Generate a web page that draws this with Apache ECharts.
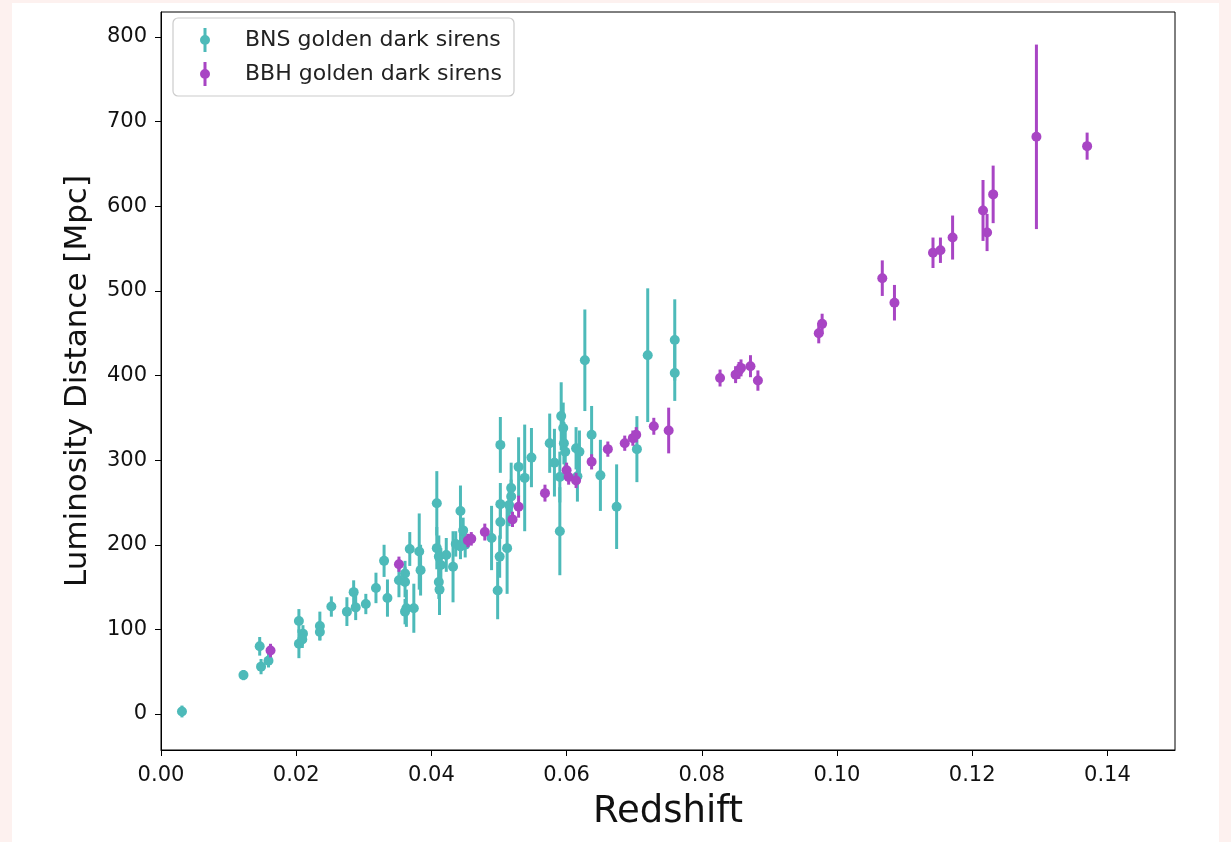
<!DOCTYPE html>
<html>
<head>
<meta charset="utf-8">
<script src="https://cdn.jsdelivr.net/npm/echarts@6/dist/echarts.min.js"></script>
<style>
  html, body { margin: 0; padding: 0; background: #fdf1ef; }
  #paper { position: absolute; left: 12px; top: 3px; width: 1207px; height: 839px; background: #fff; }
  #chart { position: absolute; left: 0; top: 0; width: 1231px; height: 842px; }
</style>
</head>
<body>
<div id="paper"></div>
<div id="chart"></div>
<script>
// BNS golden dark sirens: redshift, distance, 1-sigma error
const bnsZ = [0.0031, 0.0122, 0.0146, 0.0148, 0.0159, 0.0204, 0.0210, 0.0204, 0.0209, 0.0235,
  0.0235, 0.0252, 0.0275, 0.0285, 0.0288, 0.0303, 0.0318, 0.0330, 0.0335, 0.0352,
  0.0361, 0.0361, 0.0363, 0.0361, 0.0368, 0.0374, 0.0382, 0.0384, 0.0408, 0.0408,
  0.0411, 0.0414, 0.0411, 0.0412, 0.0422, 0.0432, 0.0436, 0.0443, 0.0443, 0.0450,
  0.0447, 0.0489, 0.0502, 0.0502, 0.0502, 0.0501, 0.0498, 0.0512, 0.0518, 0.0518,
  0.0515, 0.0529, 0.0538, 0.0548, 0.0575, 0.0582, 0.0590, 0.0590, 0.0592, 0.0595,
  0.0596, 0.0598, 0.0614, 0.0619, 0.0616, 0.0627, 0.0637, 0.0650, 0.0674, 0.0704,
  0.0720, 0.0760, 0.0760];
const bnsD = [3, 46, 80, 56, 63, 110, 95, 83, 88, 104,
  97, 127, 121, 144, 126, 130, 149, 181, 137, 158,
  166, 156, 125, 121, 195, 125, 192, 170, 249, 196,
  186, 176, 156, 147, 188, 174, 201, 240, 198, 200,
  217, 208, 318, 248, 227, 186, 146, 196, 267, 257,
  247, 292, 279, 303, 320, 297, 216, 280, 352, 338,
  320, 310, 314, 310, 281, 418, 330, 282, 245, 313,
  424, 442, 403];
const bnsErr = [7, 6, 11, 9, 8, 14, 10, 17, 10, 17,
  10, 12, 17, 14, 15, 12, 18, 19, 22, 20,
  15, 18, 22, 15, 20, 29, 45, 30, 38, 25,
  25, 20, 20, 30, 20, 42, 15, 30, 15, 15,
  15, 38, 33, 25, 20, 25, 34, 54, 30, 20,
  25, 35, 63, 35, 35, 40, 52, 30, 40, 30,
  25, 30, 25, 25, 30, 60, 34, 42, 50, 39,
  79, 48, 33];

// BBH golden dark sirens
const bbhZ = [0.0162, 0.0352, 0.0454, 0.0459, 0.0479, 0.0520, 0.0529, 0.0568, 0.0600, 0.0603,
  0.0614, 0.0637, 0.0661, 0.0686, 0.0698, 0.0703, 0.0729, 0.0751, 0.0827, 0.0850,
  0.0855, 0.0858, 0.0872, 0.0883, 0.0973, 0.0978, 0.1067, 0.1085, 0.1142, 0.1153,
  0.1171, 0.1216, 0.1222, 0.1231, 0.1295, 0.1370];
const bbhD = [75, 177, 205, 207, 215, 230, 245, 261, 288, 280,
  276, 298, 313, 320, 326, 330, 340, 335, 397, 401,
  406, 409, 411, 394, 450, 461, 515, 486, 545, 548,
  563, 595, 569, 614, 682, 671];
const bbhErr = [8, 9, 8, 8, 10, 9, 13, 10, 9, 9,
  9, 9, 9, 9, 9, 9, 10, 27, 10, 10,
  10, 10, 13, 12, 12, 12, 21, 21, 18, 15,
  26, 36, 22, 34, 109, 16];

const xTicks = [0, 0.02, 0.04, 0.06, 0.08, 0.10, 0.12, 0.14];
const yTicks = [0, 100, 200, 300, 400, 500, 600, 700, 800];

const bnsColor = '#4dbab9';
const bbhColor = '#a845c4';
const font = 'DejaVu Sans';
// errorbar legend glyph: thin bar + dot, both wound the same way so nothing cuts out
const barIcon = 'path://M3.5,0h3v24h-3z M0,12a5,5 0 1,1 10,0a5,5 0 1,1 -10,0z';

function rows(z, d, e) {
  return z.map((v, i) => [v, d[i], e[i]]);
}

function errorBars(params, api) {
  const x = api.value(0), y = api.value(1), e = api.value(2);
  const lo = api.coord([x, y - e]);
  const hi = api.coord([x, y + e]);
  const c = api.coord([x, y]);
  const color = api.visual('color');
  return {
    type: 'group',
    children: [
      { type: 'line', shape: { x1: lo[0], y1: lo[1], x2: hi[0], y2: hi[1] },
        style: { stroke: color, lineWidth: 3 } },
      { type: 'circle', shape: { cx: c[0], cy: c[1], r: 5 },
        style: { fill: color } }
    ]
  };
}

const chart = echarts.init(document.getElementById('chart'), null, { renderer: 'canvas' });

chart.setOption({
  animation: false,
  backgroundColor: 'transparent',
  grid: { left: 161, right: 56, top: 12, bottom: 92, show: true,
    borderColor: '#000', borderWidth: 1, backgroundColor: 'transparent' },
  legend: {
    orient: 'vertical', left: 173, top: 18,
    padding: [10, 12, 10, 27], itemGap: 10,
    itemWidth: 10, itemHeight: 24,
    backgroundColor: '#fff', borderColor: '#cccccc', borderWidth: 1.2, borderRadius: 5,
    textStyle: { fontFamily: font, fontSize: 22, color: '#222', padding: [0, 0, 0, 30] },
    data: [
      { name: 'BNS golden dark sirens', icon: barIcon },
      { name: 'BBH golden dark sirens', icon: barIcon }
    ]
  },
  xAxis: {
    type: 'value', min: 0, max: 0.15,
    name: 'Redshift', nameLocation: 'middle', nameGap: 44,
    nameTextStyle: { fontFamily: font, fontSize: 37, color: '#111' },
    axisLine: { show: true, onZero: false, lineStyle: { color: '#000', width: 1 } },
    axisTick: { show: true, length: 6, customValues: xTicks, lineStyle: { color: '#000' } },
    axisLabel: { customValues: xTicks, margin: 15, fontFamily: font, fontSize: 21, color: '#111',
      formatter: v => v.toFixed(2) },
    splitLine: { show: false }
  },
  yAxis: {
    type: 'value', min: -42.5, max: 829.5,
    name: 'Luminosity Distance [Mpc]', nameLocation: 'middle', nameGap: 68,
    nameTextStyle: { fontFamily: font, fontSize: 31, color: '#111' },
    axisLine: { show: true, onZero: false, lineStyle: { color: '#000', width: 1 } },
    axisTick: { show: true, length: 6, customValues: yTicks, lineStyle: { color: '#000' } },
    axisLabel: { customValues: yTicks, margin: 14, fontFamily: font, fontSize: 21, color: '#111' },
    splitLine: { show: false }
  },
  series: [
    { name: 'BNS golden dark sirens', type: 'custom', renderItem: errorBars,
      itemStyle: { color: bnsColor }, encode: { x: 0, y: 1 }, clip: true,
      data: rows(bnsZ, bnsD, bnsErr) },
    { name: 'BBH golden dark sirens', type: 'custom', renderItem: errorBars,
      itemStyle: { color: bbhColor }, encode: { x: 0, y: 1 }, clip: true,
      data: rows(bbhZ, bbhD, bbhErr) }
  ]
});
</script>
</body>
</html>
